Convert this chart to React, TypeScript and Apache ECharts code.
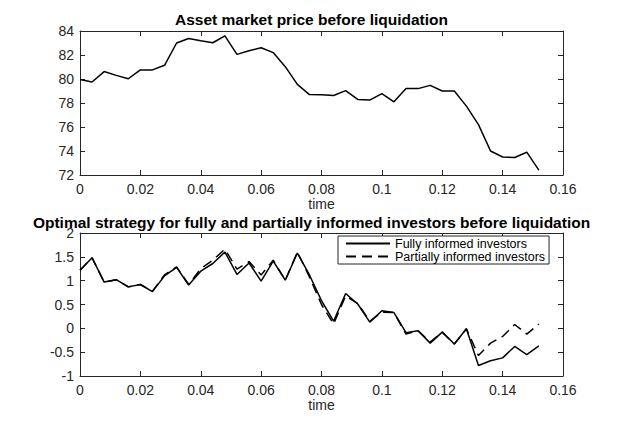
import React, { useEffect, useRef } from "react";
import * as echarts from "echarts";

const times = [
  0, 0.004, 0.008, 0.012, 0.016, 0.02, 0.024, 0.028, 0.032, 0.036, 0.04, 0.044, 0.048,
  0.052, 0.056, 0.06, 0.064, 0.068, 0.072, 0.076, 0.08, 0.084, 0.088, 0.092, 0.096, 0.1,
  0.104, 0.108, 0.112, 0.116, 0.12, 0.124, 0.128, 0.132, 0.136, 0.14, 0.144, 0.148, 0.152,
];

const assetPrice = [
  79.95, 79.75, 80.62, 80.3, 80.02, 80.76, 80.76, 81.14, 83.0, 83.37, 83.18, 83.02, 83.6,
  82.05, 82.35, 82.6, 82.2, 81.03, 79.55, 78.7, 78.68, 78.62, 79.03, 78.3, 78.24, 78.78,
  78.1, 79.2, 79.2, 79.47, 79.0, 79.0, 77.74, 76.2, 74.0, 73.5, 73.46, 73.9, 72.4,
];

const fullyInformed = [
  1.22, 1.48, 0.97, 1.02, 0.87, 0.92, 0.77, 1.1, 1.28, 0.91, 1.2, 1.36, 1.6,
  1.13, 1.37, 0.99, 1.41, 1.01, 1.58, 1.12, 0.58, 0.15, 0.73, 0.51, 0.13, 0.37,
  0.33, -0.09, -0.05, -0.31, -0.08, -0.33, -0.01, -0.78, -0.68, -0.62, -0.38, -0.55, -0.37,
];

const partiallyInformed = [
  1.22, 1.48, 0.97, 1.02, 0.87, 0.92, 0.78, 1.12, 1.29, 0.92, 1.25, 1.43, 1.66,
  1.24, 1.4, 1.12, 1.43, 1.01, 1.6, 1.08, 0.5, 0.09, 0.68, 0.52, 0.15, 0.34,
  0.33, -0.12, -0.05, -0.29, -0.08, -0.33, -0.01, -0.57, -0.31, -0.17, 0.08, -0.12, 0.09,
];

const titles = [
  "Asset market price before liquidation",
  "Optimal strategy for fully and partially informed investors before liquidation",
];
const seriesNames = ["Fully informed investors", "Partially informed investors"];
const xAxisName = "time";

const FONT = "Liberation Sans, Arial, Helvetica, sans-serif";
const AX = "#262626";

function pairs(ys: number[]) {
  return times.map((t, i) => [t, ys[i]]);
}

export default function App() {
  const ref = useRef<HTMLDivElement>(null);
  useEffect(() => {
    if (!ref.current) return;
    const chart = echarts.init(ref.current, undefined, { renderer: "svg" });

    const xBase = (gridIndex: number) => ({
      type: "value",
      gridIndex,
      min: 0,
      max: 0.16,
      interval: 0.02,
      axisLine: { show: true, onZero: false, lineStyle: { color: AX, width: 1 } },
      axisTick: { show: true, inside: true, length: 5, lineStyle: { color: AX } },
      splitLine: { show: false },
    });
    const yBase = (gridIndex: number, min: number, max: number, interval: number) => ({
      type: "value",
      gridIndex,
      min,
      max,
      interval,
      axisLine: { show: true, onZero: false, lineStyle: { color: AX, width: 1 } },
      axisTick: { show: true, inside: true, length: 5, lineStyle: { color: AX } },
      splitLine: { show: false },
    });
    const labelStyle = { color: AX, fontSize: 14, fontFamily: FONT };
    const titleStyle = { fontSize: 15.5, fontWeight: "bold", color: "#000", fontFamily: FONT };

    chart.setOption({
      animation: false,
      backgroundColor: "#ffffff",
      title: [
        { text: titles[0], left: "center", top: 11, textStyle: titleStyle, padding: 0 },
        { text: titles[1], left: "center", top: 214, textStyle: titleStyle, padding: 0 },
      ],
      legend: {
        show: true,
        orient: "vertical",
        left: 338,
        top: 236,
        itemWidth: 44,
        itemHeight: 10,
        itemGap: 0,
        padding: [1, 4, 1, 7],
        borderColor: AX,
        borderWidth: 1,
        backgroundColor: "#ffffff",
        itemStyle: { opacity: 0 },
        textStyle: { color: "#000", fontSize: 12.5, fontFamily: FONT },
        data: [{ name: seriesNames[0] }, { name: seriesNames[1] }],
      },
      grid: [
        { left: 80, top: 31, width: 483, height: 144 },
        { left: 80, top: 233, width: 483, height: 143 },
      ],
      xAxis: [
        {
          ...xBase(0),
          position: "bottom",
          name: xAxisName,
          nameLocation: "middle",
          nameGap: 21,
          nameTextStyle: labelStyle,
          axisLabel: { ...labelStyle, margin: 7 },
        },
        { ...xBase(0), position: "top", axisLabel: { show: false } },
        {
          ...xBase(1),
          position: "bottom",
          name: xAxisName,
          nameLocation: "middle",
          nameGap: 21,
          nameTextStyle: labelStyle,
          axisLabel: { ...labelStyle, margin: 7 },
        },
        { ...xBase(1), position: "top", axisLabel: { show: false } },
      ],
      yAxis: [
        { ...yBase(0, 72, 84, 2), position: "left", axisLabel: { ...labelStyle, margin: 6 } },
        { ...yBase(0, 72, 84, 2), position: "right", axisLabel: { show: false } },
        { ...yBase(1, -1, 2, 0.5), position: "left", axisLabel: { ...labelStyle, margin: 6 } },
        { ...yBase(1, -1, 2, 0.5), position: "right", axisLabel: { show: false } },
      ],
      series: [
        {
          type: "line",
          name: "price",
          xAxisIndex: 0,
          yAxisIndex: 0,
          data: pairs(assetPrice),
          symbol: "none",
          lineStyle: { color: "#000", width: 1.5 },
          itemStyle: { color: "#000" },
        },
        {
          type: "line",
          name: seriesNames[1],
          xAxisIndex: 2,
          yAxisIndex: 2,
          data: pairs(partiallyInformed),
          symbol: "none",
          lineStyle: { color: "#000", width: 1.5, type: [10, 6] },
          itemStyle: { color: "#000" },
        },
        {
          type: "line",
          name: seriesNames[0],
          xAxisIndex: 2,
          yAxisIndex: 2,
          data: pairs(fullyInformed),
          symbol: "none",
          lineStyle: { color: "#000", width: 1.5 },
          itemStyle: { color: "#000" },
        },
      ],
    });
    return () => chart.dispose();
  }, []);

  return (
    <div
      ref={ref}
      style={{ position: "fixed", left: 0, top: 0, width: 623, height: 424, background: "#fff" }}
    />
  );
}
